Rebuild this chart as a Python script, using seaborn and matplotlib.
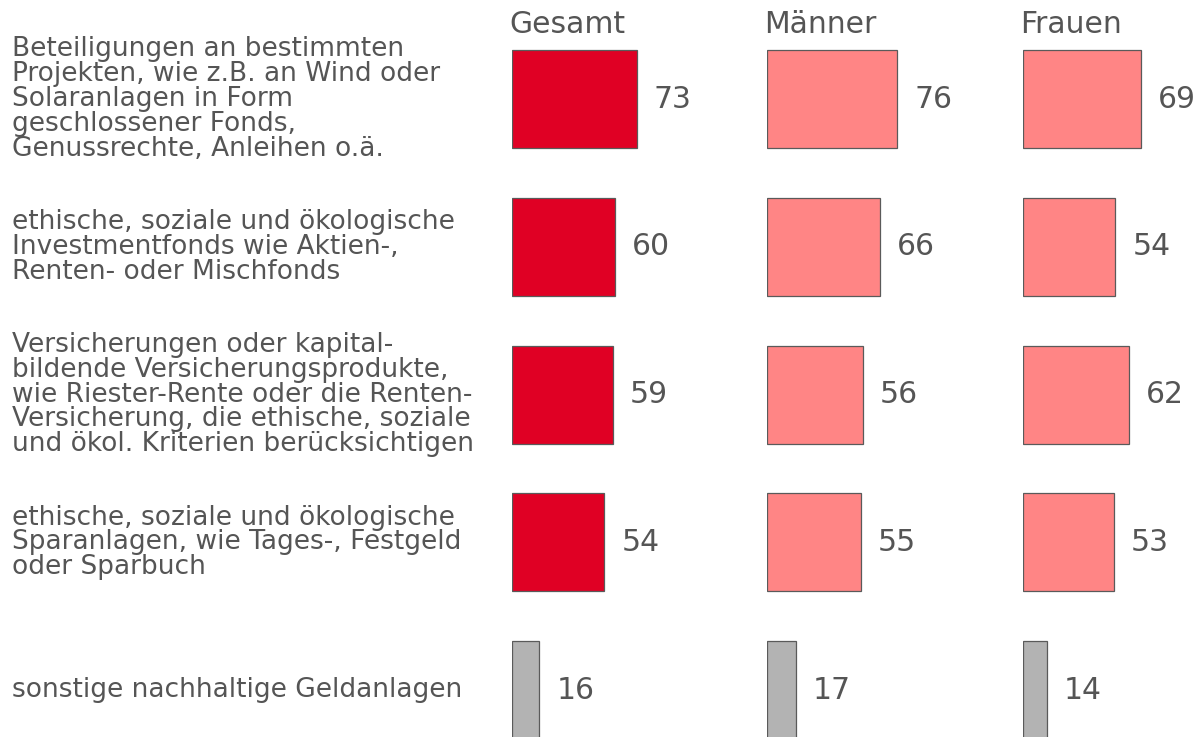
import numpy as np
import pandas as pd
import matplotlib
matplotlib.use("Agg")
import matplotlib.pyplot as plt
import matplotlib.transforms as mtransforms
import seaborn as sns

#### data
categories = [
    "Beteiligungen an bestimmten\nProjekten, wie z.B. an Wind oder\nSolaranlagen in Form\ngeschlossener Fonds,\nGenussrechte, Anleihen o.ä.",
    "ethische, soziale und ökologische\nInvestmentfonds wie Aktien-,\nRenten- oder Mischfonds",
    "Versicherungen oder kapital-\nbildende Versicherungsprodukte,\nwie Riester-Rente oder die Renten-\nVersicherung, die ethische, soziale\nund ökol. Kriterien berücksichtigen",
    "ethische, soziale und ökologische\nSparanlagen, wie Tages-, Festgeld\noder Sparbuch",
    "sonstige nachhaltige Geldanlagen",
]
groups = ["Gesamt", "Männer", "Frauen"]
gesamt = [73, 60, 59, 54, 16]
maenner = [76, 66, 56, 55, 17]
frauen = [69, 54, 62, 53, 14]

df = pd.DataFrame({
    "Kategorie": categories * 3,
    "Gruppe": np.repeat(groups, len(categories)),
    "Wert": gesamt + maenner + frauen,
})

RED = "#E00024"
PINK = "#FF8585"
GREY = "#B3B3B3"
EDGE = "#5A5A5A"
TXT = "#555555"
colors = {
    "Gesamt": [RED] * 4 + [GREY],
    "Männer": [PINK] * 4 + [GREY],
    "Frauen": [PINK] * 4 + [GREY],
}

sns.set_theme(style="white")
plt.rcParams["font.family"] = ["DejaVu Sans"]

W, H = 1198, 737
fig = plt.figure(figsize=(W / 100, H / 100), dpi=100)

px_per_unit = 1.711
row_px = 147.8
row0_px = 99
ax_w_px = 200
lefts = [512, 767, 1023]

axes = []
for g, left in zip(groups, lefts):
    ax = fig.add_axes([left / W, 0, ax_w_px / W, 1])
    d = df[df["Gruppe"] == g]
    sns.barplot(
        data=d, x="Wert", y="Kategorie", hue="Kategorie", orient="h",
        palette=colors[g], legend=False, width=98 / row_px, saturation=1,
        edgecolor=EDGE, linewidth=0.9, ax=ax,
    )
    ax.set_xlim(0, ax_w_px / px_per_unit)
    ax.set_ylim((H - row0_px) / row_px, -row0_px / row_px)
    ax.axis("off")
    for i, v in enumerate(d["Wert"]):
        ax.text(v + 17 / px_per_unit, i, str(v), fontsize=21.5, color=TXT,
                va="center", ha="left")
    # header
    tr = mtransforms.blended_transform_factory(ax.transAxes, fig.transFigure)
    ax.text(-3 / ax_w_px, 1 - 33 / H, g, transform=tr, fontsize=21.5,
            color=TXT, ha="left", va="baseline")
    axes.append(ax)

# category labels on the left
tr = mtransforms.blended_transform_factory(fig.transFigure, axes[0].transData)
for i, c in enumerate(categories):
    fig.text(12 / W, i, c, transform=tr, fontsize=19, color=TXT,
             ha="left", va="center", linespacing=0.94)

fig.savefig("out.png", dpi=100)
